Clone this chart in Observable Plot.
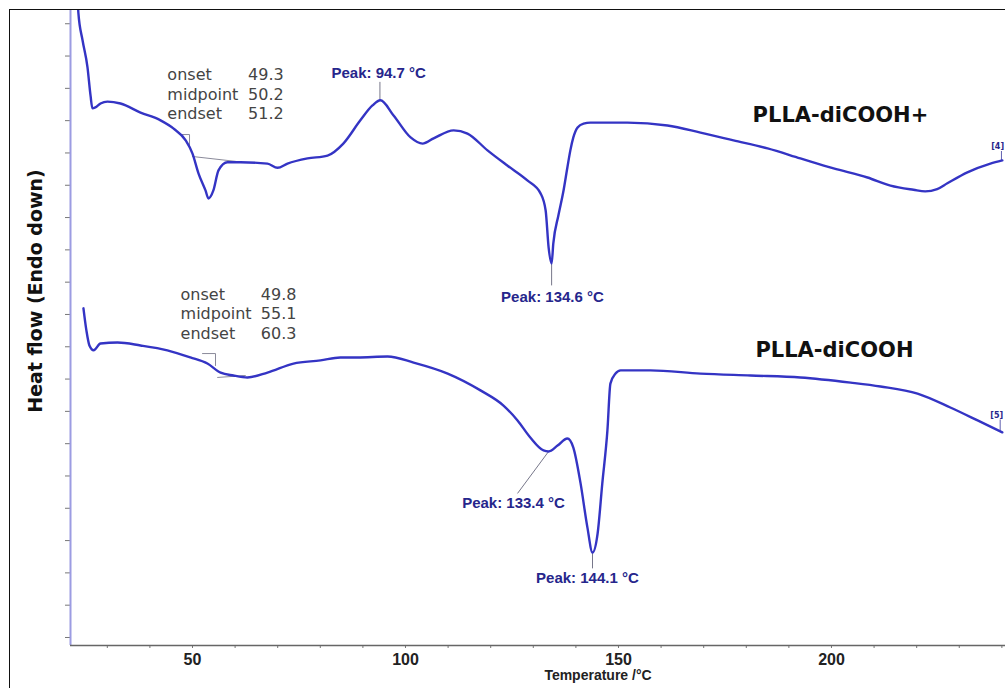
<!DOCTYPE html>
<html><head><meta charset="utf-8">
<script src="https://cdn.jsdelivr.net/npm/d3@7"></script>
<script src="https://cdn.jsdelivr.net/npm/@observablehq/plot@0.6"></script>
<style>
html,body{margin:0;padding:0;background:#fff;overflow:hidden}
#wrap{position:relative;width:1005px;height:688px}
#border{position:absolute;left:9px;top:9px;width:1100px;height:800px;border:1.5px solid #111;pointer-events:none}
</style></head><body><div id="wrap"><div id="chart"></div><div id="border"></div></div>
<script>
// PLLA-diCOOH+ (upper trace): temperature (°C) and heat flow (arbitrary units, endo down)
const tempPlus = [23.0,23.2,24.2,25.35,26.06,26.5,27.2,28.4,30.05,33.1,37.8,42.5,45.5,48.4,50.0,51.4,53.05,53.75,54.9,56.1,58.2,61.3,67.6,69.95,72.3,77.0,81.7,85.4,89.4,92.25,94.1,97.2,101.2,104.0,106.6,111.3,114.55,119.25,123.9,128.6,131.7,132.9,133.6,134.3,134.7,135.9,137.1,138.0,138.7,139.4,140.4,141.8,143.4,152.1,161.5,169.25,177.0,185.0,192.7,200.5,208.45,213.85,219.25,222.0,224.8,227.2,231.9,237.3,240.1];
const heatPlus = [20.3,19.35,18.48,17.65,16.78,16.38,16.41,16.53,16.59,16.53,16.25,16.01,15.76,15.39,14.98,14.37,13.84,13.59,13.84,14.46,14.71,14.71,14.67,14.54,14.67,14.83,14.92,15.29,16.01,16.47,16.63,16.16,15.48,15.29,15.45,15.70,15.60,15.08,14.61,14.15,13.75,13.22,12.07,11.58,12.20,13.07,13.84,14.55,15.08,15.48,15.79,15.91,15.94,15.94,15.85,15.63,15.39,15.14,14.83,14.52,14.24,13.99,13.86,13.81,13.88,14.06,14.40,14.67,14.77];
// PLLA-diCOOH (lower trace)
const tempNeat = [24.4,25.1,25.8,26.8,28.4,32.4,37.8,44.1,49.5,53.5,56.6,59.6,62.9,67.6,73.7,80.05,84.7,88.7,95.8,101.9,109.9,117.6,123.0,126.3,129.3,132.4,133.6,135.7,138.0,139.4,141.1,142.7,143.9,145.1,146.2,147.4,148.1,149.3,150.5,157.5,169.25,181.0,192.7,204.5,211.5,220.2,227.9,234.3,240.1];
const heatNeat = [10.19,9.50,9.04,8.89,9.10,9.13,9.04,8.89,8.67,8.48,8.20,8.11,8.05,8.20,8.48,8.58,8.67,8.67,8.70,8.51,8.17,7.65,7.18,6.72,6.19,5.79,5.76,5.94,6.16,5.88,4.77,3.41,2.63,3.22,4.77,6.41,7.86,8.17,8.27,8.27,8.17,8.11,8.05,7.89,7.77,7.55,7.12,6.72,6.35];

// axis ticks
const xDomain = [21.36, 240.85];
const yDomain = [-0.248, 19.41];
const xMajorTicks = [50, 100, 150, 200];
const xMinorTicks = d3.range(30, 241, 10);
const yTicks = d3.range(0, 20, 1);

// peak annotations: label, label position, and the curve point it marks
const peakLabels = ["Peak: 94.7 °C", "Peak: 134.6 °C", "Peak: 133.4 °C", "Peak: 144.1 °C"];
const peakLabelT = [93.7, 134.5, 125.35, 142.7];
const peakLabelHF = [17.46, 10.53, 4.15, 1.83];
const peakPointT = [94.0, 134.3, 133.6, 143.9];
const peakPointHF = [16.63, 11.58, 5.76, 2.63];
const peakLeaderT = [94.0, 134.3, 126.3, 143.9];
const peakLeaderHF = [17.2, 10.9, 4.46, 2.14];

// glass transition annotations
const tgNames = ["onset", "midpoint", "endset", "onset", "midpoint", "endset"];
const tgValues = ["49.3", "50.2", "51.2", "49.8", "55.1", "60.3"];
const tgNameT = [44.1, 44.1, 44.1, 47.2, 47.2, 47.2];
const tgValueT = [71.4, 71.4, 71.4, 74.4, 74.4, 74.4];
const tgHF = [17.43, 16.81, 16.22, 10.62, 10.03, 9.41];

// tangent construction lines of the Tg analysis
const tanGroup = ["a","a","a","b","b","c","c","c","d","d"];
const tanT = [47.4, 49.3, 49.3, 50.0, 60.1, 52.35, 55.4, 55.4, 55.9, 62.4];
const tanHF = [15.57, 15.57, 15.17, 14.89, 14.74, 8.79, 8.79, 8.42, 8.05, 8.11];

// series labels
const seriesNames = ["PLLA-diCOOH+", "PLLA-diCOOH"];
const seriesLabelT = [202.1, 200.7];
const seriesLabelHF = [16.16, 8.89];

// end markers
const markerText = ["[4]", "[5]"];
const markerT = [239.0, 238.8];
const markerHF = [15.2, 6.87];
const markerLineT = [239.9, 239.6];
const markerLineTop = [15.06, 6.75];
const markerLineBottom = [14.77, 6.40];

const rowsPlus = tempPlus.map((t, i) => ({t, hf: heatPlus[i], s: seriesNames[0]}));
const rowsNeat = tempNeat.map((t, i) => ({t, hf: heatNeat[i], s: seriesNames[1]}));
const peaks = peakLabels.map((l, i) => ({l, lt: peakLabelT[i], lhf: peakLabelHF[i], pt: peakPointT[i], phf: peakPointHF[i], et: peakLeaderT[i], ehf: peakLeaderHF[i]}));
const tg = tgNames.map((n, i) => ({n, v: tgValues[i], nt: tgNameT[i], vt: tgValueT[i], hf: tgHF[i]}));
const tan = tanGroup.map((g, i) => ({g, t: tanT[i], hf: tanHF[i]}));
const series = seriesNames.map((n, i) => ({n, t: seriesLabelT[i], hf: seriesLabelHF[i]}));
const markers = markerText.map((m, i) => ({m, t: markerT[i], hf: markerHF[i], lt: markerLineT[i], y1: markerLineTop[i], y2: markerLineBottom[i]}));

const curveColor = "#3434c4";
const annColor = "#26268c";

const chart = Plot.plot({
  width: 1005,
  height: 688,
  marginLeft: 70,
  marginRight: 0,
  marginTop: 10,
  marginBottom: 43,
  style: {fontFamily: "'DejaVu Sans', sans-serif", background: "transparent", overflow: "hidden"},
  x: {domain: xDomain},
  y: {domain: yDomain},
  marks: [
    Plot.axisY({ticks: yTicks, tickSize: 5, tickFormat: () => "", stroke: "#777", label: null}),
    Plot.axisX({ticks: xMinorTicks, tickSize: 3, tickFormat: () => "", stroke: "#777", label: null}),
    Plot.axisX({ticks: xMajorTicks, tickSize: 0, tickPadding: 8, fontSize: 16, fontWeight: "bold",
      fontFamily: "'Liberation Sans', Arial, sans-serif", fill: "#222", label: null}),
    Plot.ruleX([xDomain[0]], {stroke: "#9c9ce2", strokeWidth: 2}),
    Plot.ruleY([yDomain[0]], {stroke: "#666", strokeWidth: 1.5}),
    // tangent construction
    Plot.line(tan, {x: "t", y: "hf", z: "g", stroke: "#8a8a9a", strokeWidth: 1}),
    // peak leaders
    Plot.link(peaks, {x1: "pt", y1: "phf", x2: "et", y2: "ehf", stroke: "#77778a", strokeWidth: 1}),
    Plot.link(markers, {x1: "lt", y1: "y1", x2: "lt", y2: "y2", stroke: "#6060b0", strokeWidth: 1}),
    // curves
    Plot.line(rowsPlus, {x: "t", y: "hf", stroke: curveColor, strokeWidth: 2.4, curve: "monotone-x", clip: true}),
    Plot.line(rowsNeat, {x: "t", y: "hf", stroke: curveColor, strokeWidth: 2.4, curve: "monotone-x", clip: true}),
    // peak labels
    Plot.text(peaks, {x: "lt", y: "lhf", text: "l", fill: annColor, fontSize: 15, fontWeight: "bold",
      fontFamily: "'Liberation Sans', Arial, sans-serif", letterSpacing: "-0.4px"}),
    // Tg texts
    Plot.text(tg, {x: "nt", y: "hf", text: "n", textAnchor: "start", fill: "#444", fontSize: 16}),
    Plot.text(tg, {x: "vt", y: "hf", text: "v", textAnchor: "end", fill: "#444", fontSize: 16}),
    // series names
    Plot.text(series, {x: "t", y: "hf", text: "n", fill: "#111", fontSize: 21, fontWeight: "bold"}),
    // markers
    Plot.text(markers, {x: "t", y: "hf", text: "m", fill: annColor, fontSize: 8, fontWeight: "bold"}),
    // axis titles
    Plot.text(["Temperature /°C"], {frameAnchor: "bottom", dx: 60, dy: 34, fontSize: 14, fontWeight: "bold",
      fontFamily: "'Liberation Sans', Arial, sans-serif", letterSpacing: "-0.2px", fill: "#222"}),
    Plot.text(["Heat flow (Endo down)"], {frameAnchor: "left", textAnchor: "middle", rotate: -90, dx: -35, dy: -37, fontSize: 19,
      fontWeight: "bold", fill: "#111", letterSpacing: "1px"})
  ]
});
document.getElementById("chart").appendChild(chart);
</script>
</body></html>
